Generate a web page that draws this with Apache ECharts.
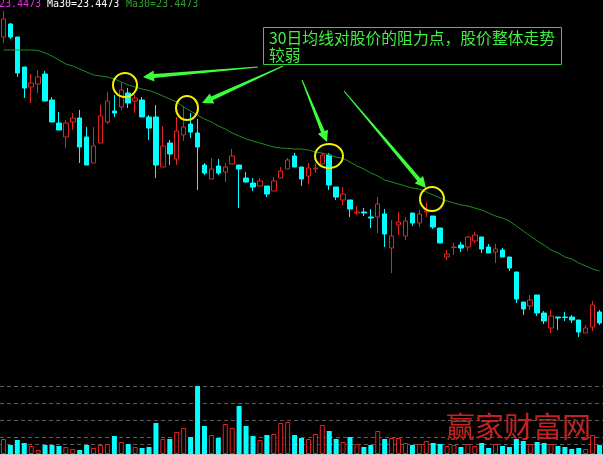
<!DOCTYPE html>
<html><head><meta charset="utf-8">
<script src="https://cdn.jsdelivr.net/npm/echarts@6/dist/echarts.min.js"></script>
<style>html,body{margin:0;padding:0;background:#000;}#c{width:603px;height:455px;}</style>
</head><body><div id="c"></div>
<script>
// ---- data ----
const opens  = [35.15,35.80,35.15,33.65,32.65,32.80,33.30,32.00,30.85,30.15,30.90,31.10,30.15,28.85,29.85,30.90,31.45,31.65,32.35,31.95,32.00,31.15,31.15,28.65,29.85,29.05,30.25,30.80,30.35,28.75,28.05,28.70,28.40,28.80,28.75,28.10,27.85,27.70,27.70,27.45,28.10,28.55,29.20,28.65,28.20,28.55,28.80,29.25,27.65,27.00,27.00,26.35,26.40,26.15,26.15,26.30,24.60,25.75,25.20,26.35,25.85,26.40,26.20,25.60,24.15,24.63,24.75,24.65,24.95,25.15,24.65,24.40,24.50,24.15,23.40,21.90,21.70,22.25,21.35,20.60,21.15,21.15,21.15,21.00,20.35,20.65,21.40];
const closes = [36.05,35.15,33.35,32.60,32.85,33.15,31.95,30.90,30.50,30.85,31.10,29.65,28.75,29.70,31.20,31.95,31.35,32.50,31.85,32.10,31.15,30.60,28.75,29.70,29.30,30.45,30.65,30.40,29.65,28.35,28.55,28.35,28.65,29.20,28.55,27.90,27.65,27.95,27.30,27.95,28.45,29.00,28.65,28.05,28.60,28.60,29.25,27.75,27.15,27.30,26.55,26.40,26.35,26.10,26.80,25.30,25.20,25.90,25.95,25.85,26.30,26.45,25.65,24.85,24.30,24.65,24.60,25.15,25.25,24.55,24.35,24.55,24.15,23.60,22.05,21.55,22.00,21.35,20.95,21.20,21.10,21.13,21.00,20.40,20.60,21.75,20.85];
const lows   = [34.85,35.05,33.15,32.10,31.85,32.35,31.95,30.90,30.50,29.60,30.50,28.85,28.75,28.85,29.85,30.80,31.15,31.50,31.60,31.35,31.15,30.00,28.10,28.65,28.75,28.75,29.95,30.10,27.50,28.25,28.05,28.25,27.90,28.80,26.60,27.85,27.45,27.70,27.15,27.45,28.10,28.55,28.65,27.70,27.80,28.35,28.80,27.50,27.00,26.75,26.15,26.25,26.20,25.60,25.35,24.65,23.35,25.25,25.00,25.70,25.65,26.15,25.55,24.85,24.00,24.25,24.40,24.45,24.85,24.35,24.35,23.85,24.15,23.45,21.85,21.25,21.50,21.20,20.80,20.35,20.50,20.95,20.85,20.15,20.35,20.45,20.75];
const highs  = [36.45,35.85,35.15,33.65,33.30,33.50,33.45,32.15,31.40,31.00,31.35,31.50,30.65,30.65,31.75,32.40,32.25,32.90,32.60,32.25,32.15,31.25,31.75,30.70,30.00,31.15,31.70,31.35,31.05,28.85,29.10,29.05,28.85,29.55,28.75,28.40,28.10,28.10,27.70,28.15,28.65,29.10,29.35,28.65,28.85,28.85,29.35,29.35,27.65,27.65,27.00,26.70,26.60,26.55,27.15,26.55,26.00,26.40,26.15,26.35,26.50,26.90,26.20,25.60,24.50,24.85,24.90,25.20,25.40,25.15,24.80,24.80,24.60,24.15,23.40,21.90,22.25,22.25,21.45,21.50,21.15,21.40,21.25,21.00,20.75,21.95,21.50];
const ma30   = [34.50,34.50,34.50,34.50,34.50,34.48,34.35,34.20,34.00,33.80,33.70,33.55,33.40,33.25,33.20,33.15,33.05,32.90,32.75,32.65,32.55,32.48,32.35,32.20,32.05,31.90,31.65,31.45,31.25,31.05,30.90,30.70,30.55,30.35,30.20,30.05,29.95,29.85,29.75,29.65,29.60,29.58,29.55,29.55,29.50,29.40,29.35,29.25,29.15,29.08,28.90,28.70,28.55,28.35,28.20,28.00,27.90,27.80,27.70,27.60,27.55,27.40,27.25,27.10,26.95,26.85,26.75,26.70,26.60,26.50,26.35,26.20,26.10,25.95,25.70,25.45,25.20,24.95,24.75,24.50,24.35,24.15,24.05,23.85,23.70,23.55,23.45];
const volume = [15,9,14,11,8,4,9,9,8,7,5,4,9,6,9,10,18,12,10,7,6,7,31,15,15,22,26,17,68,28,19,16,30,26,48,28,18,14,19,20,31,32,19,16,15,20,29,23,15,12,17,10,7,9,23,15,16,16,11,9,10,13,11,10,8,9,7,10,8,11,6,10,8,7,15,13,10,12,11,10,8,7,5,6,5,19,9];
const days = Array.from({length: opens.length}, (_, i) => 'D' + (i + 1));
const headerLabels = ['23.4473', 'Ma30=23.4473', 'Ma30=23.4473'];
const noteText = ['30日均线对股价的阻力点，股价整体走势', '较弱'];
const watermark = '赢家财富网';

// ---- build ----
const RED = '#e52222', CYAN = '#00ffff';
const kData = opens.map((o, i) => [o, closes[i], lows[i], highs[i]]);
const volData = volume.map((v, i) => {
  const up = closes[i] >= opens[i];
  return { value: v, itemStyle: up
    ? { color: '#000', borderColor: RED, borderWidth: 1 }
    : { color: CYAN, borderColor: CYAN, borderWidth: 0 } };
});

function arrow(tail, tip) {
  const dx = tip[0] - tail[0], dy = tip[1] - tail[1];
  const L = Math.hypot(dx, dy), ux = dx / L, uy = dy / L, nx = -uy, ny = ux;
  const hl = 11, hw = 5.5, sw = 2, tw = 0.5;
  const bx = tip[0] - ux * hl, by = tip[1] - uy * hl;
  return {
    type: 'polygon', silent: true, z: 100,
    shape: { points: [
      [tail[0] + nx * tw, tail[1] + ny * tw], [bx + nx * sw, by + ny * sw], [bx + nx * hw, by + ny * hw],
      tip, [bx - nx * hw, by - ny * hw], [bx - nx * sw, by - ny * sw], [tail[0] - nx * tw, tail[1] - ny * tw]
    ] },
    style: { fill: '#3cff3c' }
  };
}
function ring(cx, cy, rx, ry) {
  return { type: 'ellipse', silent: true, z: 100, shape: { cx: cx, cy: cy, rx: rx, ry: ry },
    style: { fill: 'none', stroke: '#f2f200', lineWidth: 2 } };
}

const chart = echarts.init(document.getElementById('c'), null, { renderer: 'canvas' });
chart.setOption({
  backgroundColor: '#000',
  animation: false,
  grid: [
    { left: -2.5, width: 609, top: 0, height: 340 },
    { left: -2.5, width: 609, top: 386, height: 68 }
  ],
  xAxis: [
    { type: 'category', data: days, gridIndex: 0, boundaryGap: true, show: false },
    { type: 'category', data: days, gridIndex: 1, boundaryGap: true,
      axisLine: { show: true, lineStyle: { color: '#c8c8c8', width: 1 } },
      axisTick: { show: false }, axisLabel: { show: false }, splitLine: { show: false } }
  ],
  yAxis: [
    { type: 'value', gridIndex: 0, min: 20, max: 37, show: false },
    { type: 'value', gridIndex: 1, min: 0, max: 68, interval: 17,
      axisLine: { show: false }, axisTick: { show: false }, axisLabel: { show: false },
      splitLine: { show: true, lineStyle: { color: '#5c5c5c', type: [4, 3], width: 1 } } }
  ],
  series: [
    { type: 'candlestick', xAxisIndex: 0, yAxisIndex: 0, data: kData, barWidth: 5,
      itemStyle: { color: '#000', color0: CYAN, borderColor: RED, borderColor0: CYAN, borderWidth: 1 } },
    { type: 'line', xAxisIndex: 0, yAxisIndex: 0, data: ma30, symbol: 'none',
      lineStyle: { color: '#1f8f1f', width: 1 }, z: 3 },
    { type: 'bar', xAxisIndex: 1, yAxisIndex: 1, data: volData, barWidth: 5,
      markLine: { silent: true, symbol: 'none', z: 1, label: { show: false },
        lineStyle: { color: '#5c5c5c', type: [4, 3], width: 1 }, data: [{ yAxis: 10 }] } }
  ],
  graphic: [
    { type: 'text', left: -1, top: -1, silent: true, style: { text: headerLabels[0], fill: '#e030e0', font: '10px "DejaVu Sans Mono"' } },
    { type: 'text', left: 47, top: -1, silent: true, style: { text: headerLabels[1], fill: '#ffffff', font: '10px "DejaVu Sans Mono"' } },
    { type: 'text', left: 126, top: -1, silent: true, style: { text: headerLabels[2], fill: '#2f9f2f', font: '10px "DejaVu Sans Mono"' } },
    { type: 'rect', silent: true, z: 100, shape: { x: 263.5, y: 27.5, width: 298, height: 37 },
      style: { fill: '#000', stroke: '#38d038', lineWidth: 1 } },
    { type: 'text', left: 269, top: 30, silent: true, z: 101,
      style: { text: noteText[0], fill: '#40f040', font: '15.8px "Noto Sans CJK SC"' } },
    { type: 'text', left: 269, top: 47, silent: true, z: 101,
      style: { text: noteText[1], fill: '#40f040', font: '15.8px "Noto Sans CJK SC"' } },
    { type: 'text', left: 446, top: 412, silent: true, z: 100,
      style: { text: watermark, fill: '#c42222', font: '29px "Noto Sans CJK SC"' } },
    ring(125, 85, 12, 12), ring(187, 108, 11, 12), ring(329, 156, 14, 12), ring(432, 199, 12, 12),
    arrow([258, 67], [143, 77]), arrow([283, 66], [202, 103]),
    arrow([302, 80], [327, 142]), arrow([344, 91], [426, 188])
  ]
});
</script></body></html>
